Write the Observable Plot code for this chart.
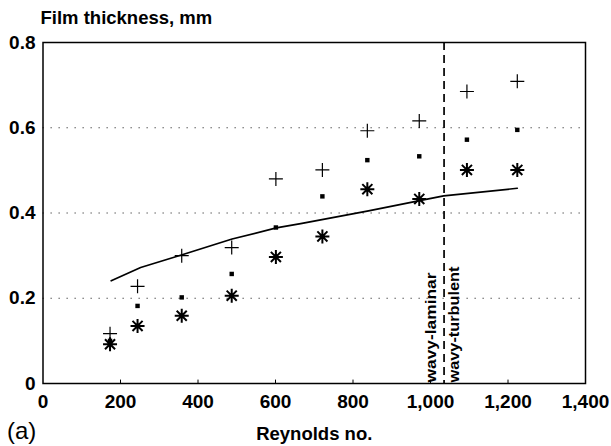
<!DOCTYPE html>
<html>
<head>
<meta charset="utf-8">
<script src="https://cdn.jsdelivr.net/npm/d3@7"></script>
<script src="https://cdn.jsdelivr.net/npm/@observablehq/plot@0.6"></script>
<style>
  html, body { margin: 0; padding: 0; background: #fff; }
  #chart svg { display: block; }
</style>
</head>
<body>
<div id="chart"></div>
<script>
// ---- data ----
const reynolds   = [173, 244, 358, 487, 601, 721, 837, 971, 1094, 1224];
const plusVals   = [0.117, 0.228, 0.300, 0.319, 0.480, 0.501, 0.593, 0.616, 0.685, 0.709];
const dotVals    = [0.100, 0.182, 0.202, 0.257, 0.366, 0.439, 0.524, 0.533, 0.572, 0.595];
const starVals   = [0.092, 0.135, 0.159, 0.206, 0.297, 0.345, 0.456, 0.433, 0.501, 0.501];
const curveRe    = [176, 252, 355, 488, 602, 665, 840, 972, 1034, 1224];
const curveVals  = [0.241, 0.272, 0.301, 0.339, 0.365, 0.375, 0.405, 0.429, 0.440, 0.458];
const transitionRe = [1035];
const regimeLabels = ["wavy-laminar", "wavy-turbulent"];
const xTicks = [0, 200, 400, 600, 800, 1000, 1200, 1400];
const yTicks = [0, 0.2, 0.4, 0.6, 0.8];
const gridY  = [0.2, 0.4, 0.6];
const titleText = "Film thickness, mm";
const xLabelText = "Reynolds no.";
const panelText = "(a)";

const points = reynolds.map((r, i) => ({re: r, plus: plusVals[i], dot: dotVals[i], star: starVals[i]}));
const curve = curveRe.map((r, i) => ({re: r, h: curveVals[i]}));

const plusSymbol = {
  draw(ctx, size) {
    const r = Math.sqrt(size / Math.PI);
    ctx.moveTo(-r, 0); ctx.lineTo(r, 0);
    ctx.moveTo(0, -r); ctx.lineTo(0, r);
  }
};
const starSymbol = {
  draw(ctx, size) {
    const r = Math.sqrt(size / Math.PI);
    const d = r * 0.72;
    ctx.moveTo(-r, 0); ctx.lineTo(r, 0);
    ctx.moveTo(0, -r); ctx.lineTo(0, r);
    ctx.moveTo(-d, -d); ctx.lineTo(d, d);
    ctx.moveTo(-d, d); ctx.lineTo(d, -d);
  }
};

const font = "'Liberation Sans', Arial, Helvetica, sans-serif";
const xMin = xTicks[0], xMax = xTicks[xTicks.length - 1];
const yMin = yTicks[0], yMax = yTicks[yTicks.length - 1];

const chart = Plot.plot({
  width: 611,
  height: 446,
  marginLeft: 42.5,
  marginRight: 26,
  marginTop: 42,
  marginBottom: 63,
  style: {fontFamily: font, fontSize: "19px", fontWeight: "bold", color: "#000", background: "#fff"},
  x: {domain: [xMin, xMax], ticks: xTicks, tickFormat: d3.format(","), tickSize: 0, tickPadding: 11, label: null},
  y: {domain: [yMin, yMax], ticks: yTicks, tickFormat: d => d === 0 ? "0" : d.toFixed(1), tickSize: 0, tickPadding: 7.5, label: null},
  marks: [
    Plot.ruleY(gridY, {stroke: "#444", strokeWidth: 1, strokeDasharray: "1.3,6.7"}),
    Plot.ruleX(xTicks.slice(1, -1), {x: d => d, y1: 0, y2: 0.008, stroke: "#000", strokeWidth: 1}),
    Plot.ruleX(transitionRe, {stroke: "#000", strokeWidth: 1.7, strokeDasharray: "8,5"}),
    Plot.line(curve, {x: "re", y: "h", stroke: "#000", strokeWidth: 1.7}),
    Plot.dot(points, {x: "re", y: "plus", symbol: plusSymbol, r: 7, stroke: "#000", strokeWidth: 1.2, fill: "none"}),
    Plot.dot(points, {x: "re", y: "dot", symbol: "square", r: 2.5, fill: "#000", stroke: "none"}),
    Plot.dot(points, {x: "re", y: "star", symbol: starSymbol, r: 7, stroke: "#000", strokeWidth: 2, fill: "none"}),
    Plot.text([regimeLabels[0]], {x: () => transitionRe[0], y: () => yMin, text: d => d, rotate: -90, textAnchor: "start", lineAnchor: "middle", dx: -12.5, dy: -1, fontSize: 14.5, fontWeight: "bold", fill: "#000"}),
    Plot.text([regimeLabels[1]], {x: () => transitionRe[0], y: () => yMin, text: d => d, rotate: -90, textAnchor: "start", lineAnchor: "middle", dx: 10, dy: -1, fontSize: 14.5, fontWeight: "bold", fill: "#000"}),
    Plot.frame({stroke: "#000", strokeWidth: 1.5}),
    Plot.text([titleText], {x: () => xMin, y: () => yMax, text: d => d, textAnchor: "start", lineAnchor: "middle", dx: -2.5, dy: -24, fontSize: 18.5, fontWeight: "bold", fill: "#000"}),
    Plot.text([xLabelText], {x: () => (xMin + xMax) / 2, y: () => yMin, text: d => d, textAnchor: "middle", lineAnchor: "middle", dy: 51, fontSize: 18.5, fontWeight: "bold", fill: "#000"}),
    Plot.text([panelText], {x: () => xMin, y: () => yMin, text: d => d, textAnchor: "start", lineAnchor: "middle", dx: -36, dy: 47.5, fontSize: 24, fontWeight: "normal", fill: "#000"})
  ]
});

document.getElementById("chart").appendChild(chart);

// stretch the rotated regime labels to the length they have in the reference
d3.select(chart).selectAll("text").each(function() {
  const t = this.textContent;
  if (t === regimeLabels[0]) d3.select(this).attr("textLength", 110).attr("lengthAdjust", "spacingAndGlyphs");
  if (t === regimeLabels[1]) d3.select(this).attr("textLength", 116).attr("lengthAdjust", "spacingAndGlyphs");
});
</script>
</body>
</html>
